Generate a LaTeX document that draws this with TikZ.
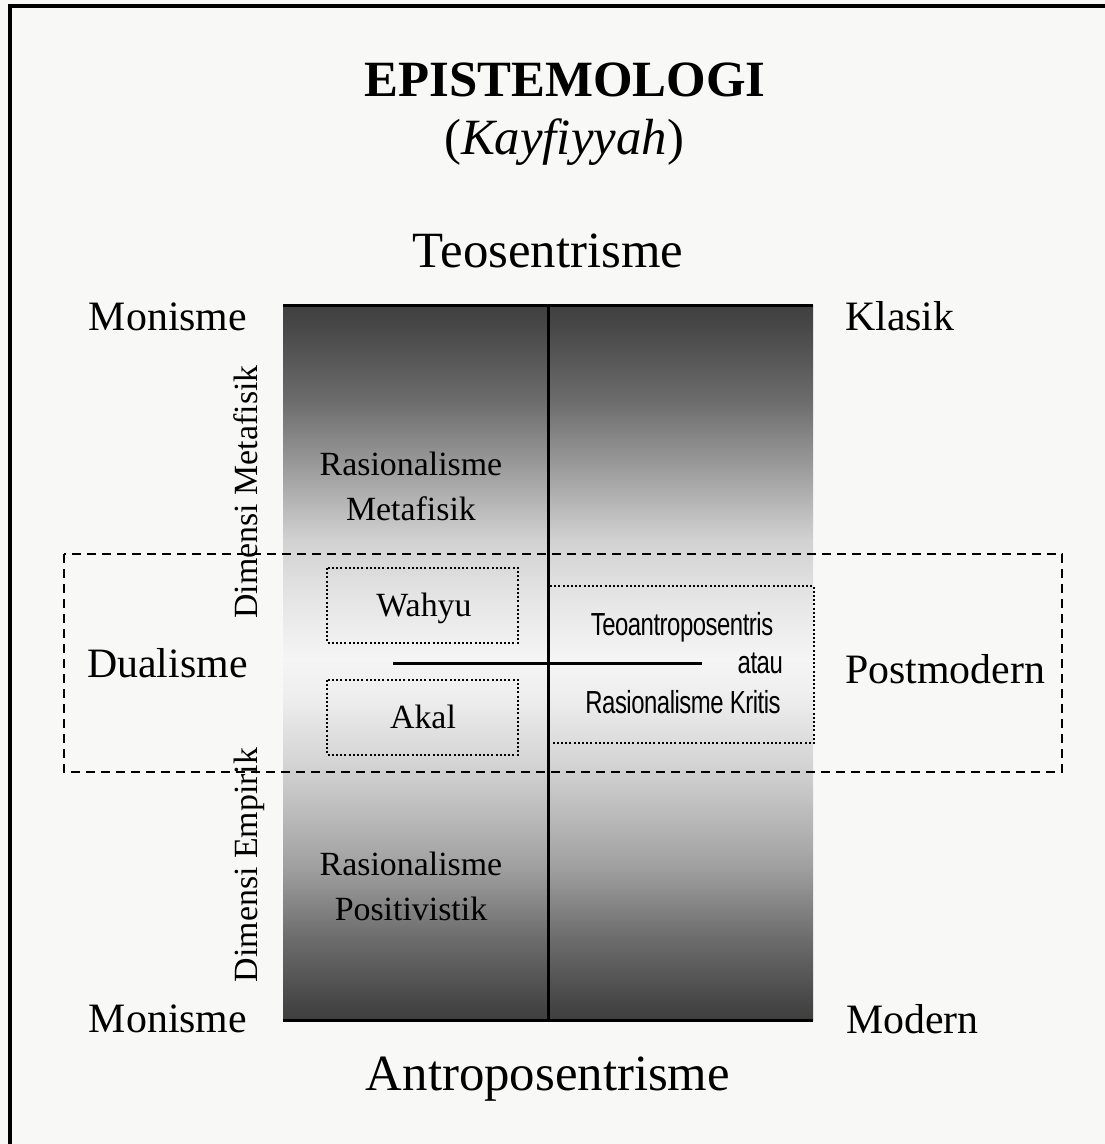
\documentclass[tikz,border=0pt]{standalone}
\usepackage{fontspec}
\setmainfont{Liberation Serif}
\newfontfamily\narrowsans{Liberation Sans}
\definecolor{bgc}{RGB}{248,248,247}
\definecolor{sA}{gray}{0.25}
\definecolor{sB}{gray}{0.27}
\definecolor{sC}{gray}{0.42}
\definecolor{sD}{gray}{0.63}
\definecolor{sE}{gray}{0.82}
\definecolor{sF}{gray}{0.93}
\definecolor{sG}{gray}{0.96}
\definecolor{sH}{gray}{0.90}
\definecolor{sI}{gray}{0.72}
\definecolor{sJ}{gray}{0.60}
\pgfdeclareverticalshading{epigrad}{100bp}{color(0bp)=(sA); color(25bp)=(sA); color(26bp)=(sB); color(30.6bp)=(sC); color(35.8bp)=(sD); color(42.5bp)=(sE); color(47.4bp)=(sF); color(50.2bp)=(sG); color(54.4bp)=(sH); color(58.6bp)=(sE); color(61bp)=(sI); color(63.9bp)=(sJ); color(68.4bp)=(sC); color(73.9bp)=(sB); color(75bp)=(sA); color(100bp)=(sA)}
\newcommand{\narrowtxt}[1]{\scalebox{0.75}[1]{\narrowsans\fontsize{32}{36}\selectfont\addfontfeature{LetterSpace=-2} #1}}
\begin{document}
\begin{tikzpicture}[x=1bp,y=-1bp,
  big/.style={inner sep=0pt,anchor=base,font=\fontsize{51}{55}\selectfont},
  mid/.style={inner sep=0pt,anchor=base,font=\fontsize{42}{46}\selectfont},
  small/.style={inner sep=0pt,anchor=base,font=\fontsize{34}{45}\selectfont},
  sans/.style={inner sep=0pt,anchor=base},
  frameline/.style={line width=4bp,black},
  solidline/.style={line width=3bp,black},
  dashedbox/.style={line width=2bp,dash pattern=on 9bp off 6bp},
  dottedbox/.style={line width=2bp,dash pattern=on 2bp off 2.2bp}]
\useasboundingbox[fill=bgc] (0,0) rectangle (1105,1144);
% frame
\coordinate (ftl) at (10,6);
\coordinate (ftr) at (1105,6);
\coordinate (fbl) at (10,1144);
\draw[frameline] (fbl) -- (ftl) -- (ftr);
% gradient block
\coordinate (rtl) at (283,305);
\coordinate (rtr) at (813,305);
\coordinate (rbl) at (283,1020);
\coordinate (rbr) at (813,1020);
\shade[shading=epigrad] (rtl) rectangle (rbr);
% dashed dualism region
\coordinate (dtl) at (64,554);
\coordinate (dbr) at (1062,772);
\draw[dashedbox] (dtl) rectangle (dbr);
% structural lines
\coordinate (vt) at (548,304);
\coordinate (vb) at (548,1020);
\coordinate (hl) at (393,663);
\coordinate (hr) at (702,663);
\draw[solidline] (rtl) -- (rtr);
\draw[solidline] (rbl) -- (rbr);
\draw[solidline] (vt) -- (vb);
\draw[solidline] (hl) -- (hr);
% dotted boxes
\coordinate (wtl) at (327,568);
\coordinate (wbr) at (518,643);
\coordinate (atl) at (327,680);
\coordinate (abr) at (518,755);
\draw[dottedbox] (wtl) rectangle (wbr);
\draw[dottedbox] (atl) rectangle (abr);
\coordinate (t1) at (550,586);
\coordinate (t2) at (814,586);
\coordinate (t3) at (814,743);
\coordinate (t4) at (552,743);
\draw[dottedbox] (t1) -- (t2) -- (t3) -- (t4);
% titles
\node[big,font=\fontsize{51}{55}\selectfont\bfseries] (title) at (565,96) {EPISTEMOLOGI};
\node[big] (sub) at (564,154) {(\textit{Kayfiyyah})};
\node[big] (teo) at (548,267) {Teosentrisme};
\node[big] (antro) at (548,1090) {Antroposentrisme};
% side labels
\node[mid] (mon1) at (168,330) {Monisme};
\node[mid,anchor=base west] (klasik) at (845,330) {Klasik};
\node[mid,anchor=base west] (dual) at (87,677) {Dualisme};
\node[mid,anchor=base west] (post) at (845,683) {Postmodern};
\node[mid] (mon2) at (168,1032) {Monisme};
\node[mid,anchor=base west] (modern) at (846,1033) {Modern};
% vertical labels
\node[small,rotate=90] (dmeta) at (257,492) {Dimensi Metafisik};
\node[small,rotate=90] (demp) at (257,865) {Dimensi Empirik};
% inner labels
\node[small] (rm1) at (411,475) {Rasionalisme};
\node[small] (rm2) at (411,520) {Metafisik};
\node[small] (rp1) at (411,875) {Rasionalisme};
\node[small] (rp2) at (411,920) {Positivistik};
\node[small] (wahyu) at (424,616) {Wahyu};
\node[small] (akal) at (423,728) {Akal};
\node[sans] (ta1) at (682,635) {\narrowtxt{Teoantroposentris}};
\node[sans,anchor=base east] (ta2) at (783,673) {\narrowtxt{atau}};
\node[sans] (ta3) at (683,713) {\narrowtxt{Rasionalisme Kritis}};
\end{tikzpicture}
\end{document}
